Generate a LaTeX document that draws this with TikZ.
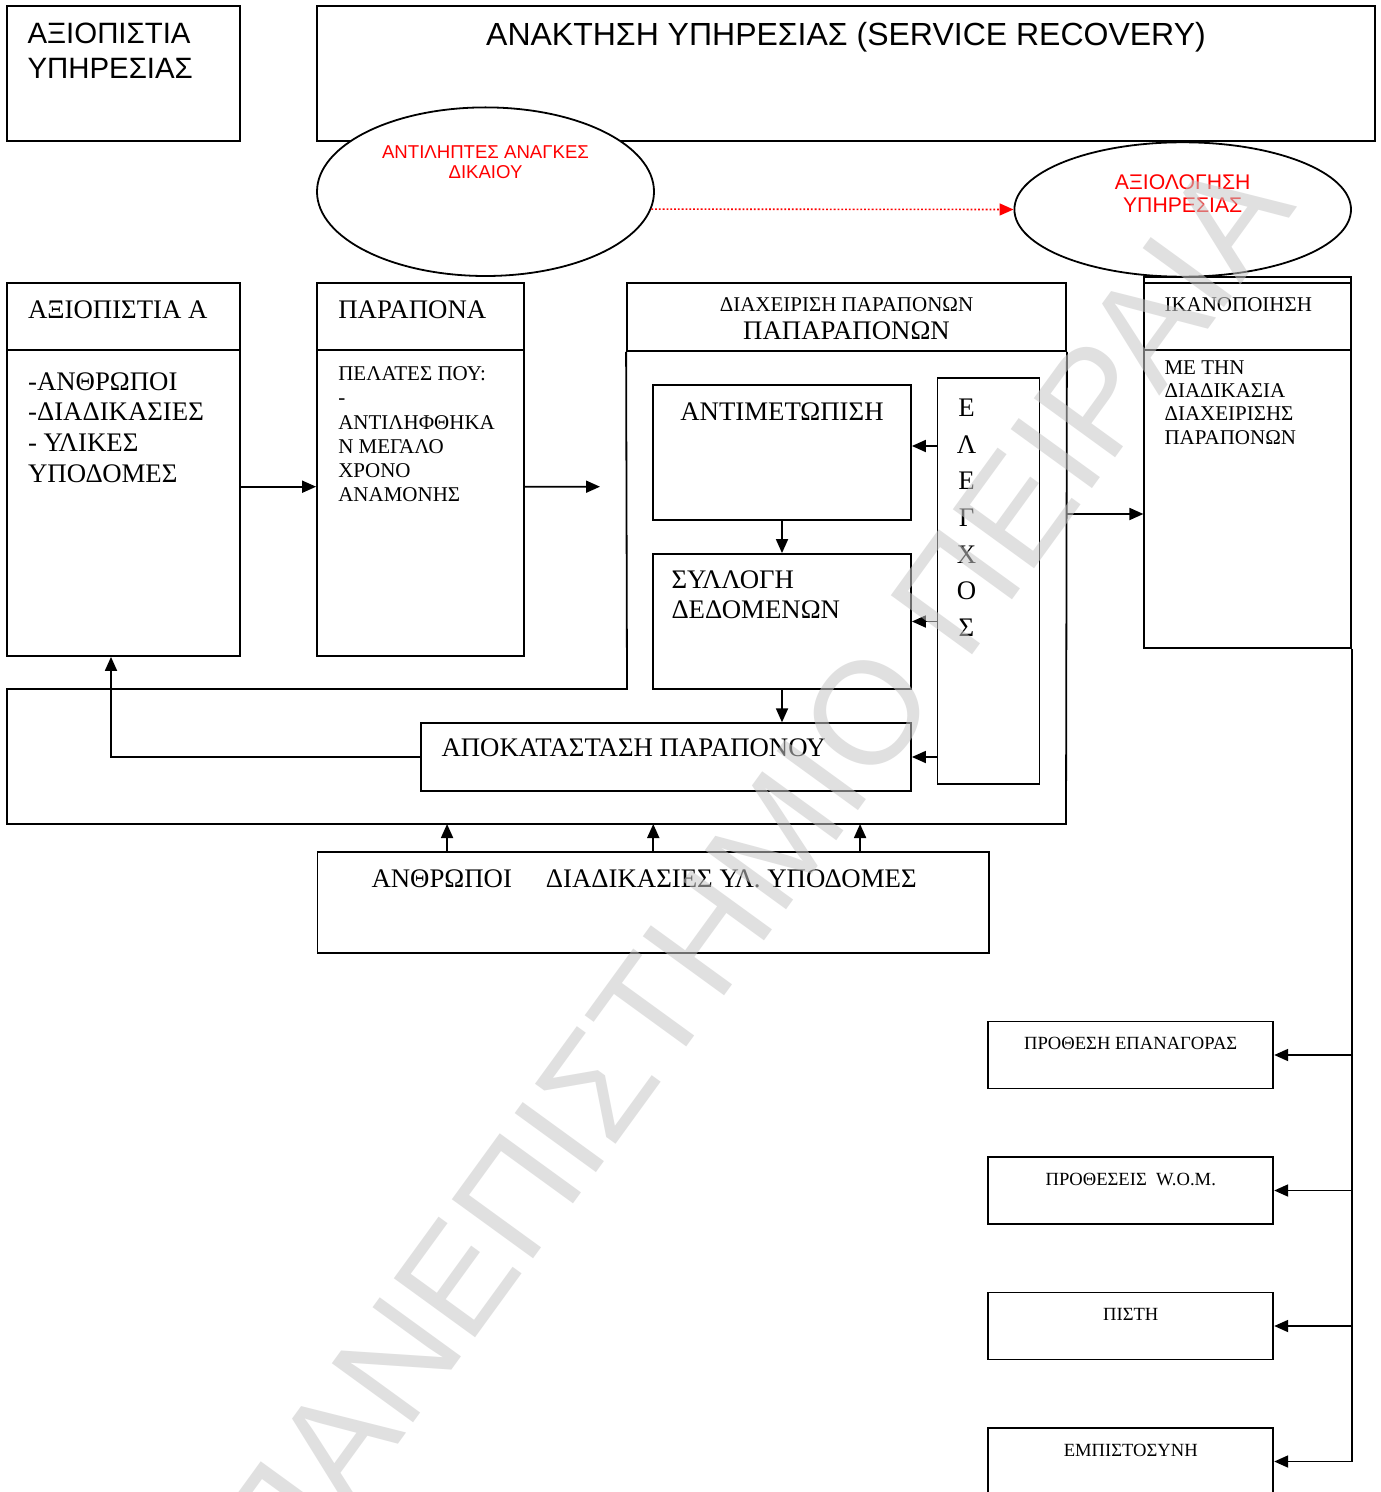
\documentclass[tikz,border=0pt]{standalone}
\usepackage{fontspec}
\setmainfont{Liberation Serif}
\setsansfont{Liberation Sans}
\usetikzlibrary{arrows.meta, positioning, shapes.geometric}

\begin{document}
\begin{tikzpicture}[x=0.5pt, y=-0.5pt,
    box/.style={draw, line width=0.9pt, fill=white, inner sep=0pt},
    oval/.style={draw, ellipse, line width=0.9pt, fill=white, inner sep=0pt},
    arr/.style={line width=0.9pt, -{Triangle[length=7pt, width=6pt]}},
    head/.style={font=\sffamily\fontsize{14.7}{17.3}\selectfont, inner sep=0pt, align=left},
    redtxt/.style={font=\sffamily\fontsize{9.3}{10.3}\selectfont, text=red, inner sep=0pt, align=center},
    big/.style={font=\fontsize{13.4}{15.4}\selectfont, inner sep=0pt, align=left},
    small/.style={font=\fontsize{10.5}{12.1}\selectfont, inner sep=0pt, align=left},
    note/.style={font=\fontsize{9.3}{11}\selectfont, inner sep=0pt}
]
    \useasboundingbox (0,0) rectangle (1380,1492);
    \fill[white] (0,0) rectangle (1380,1492);

    % Service reliability
    \node[box, minimum width=116.5pt, minimum height=67.5pt] (asr) at (123.5,73.5) {};
    \node[head, anchor=base west] (asrT) at ([xshift=10.5pt, yshift=-36.5pt]asr.north west) {ΑΞΙΟΠΙΣΤΙΑ\\ΥΠΗΡΕΣΙΑΣ};

    % Service recovery
    \node[box, minimum width=529pt, minimum height=67.5pt] (rec) at (846,73.5) {};
    \node[head, font=\sffamily\fontsize{16}{19}\selectfont, anchor=base] (recT) at ([yshift=-20.3pt]rec.north) {ΑΝΑΚΤΗΣΗ ΥΠΗΡΕΣΙΑΣ (SERVICE RECOVERY)};

    % Perceived needs and evaluation
    \node[oval, minimum width=168.5pt, minimum height=84.3pt] (need) at (485.5,191.7) {};
    \node[redtxt, anchor=base] (needT) at ([yshift=6.4pt]need.center) {ΑΝΤΙΛΗΠΤΕΣ ΑΝΑΓΚΕΣ\\ΔΙΚΑΙΟΥ};
    \node[oval, minimum width=168.3pt, minimum height=67.2pt] (eval) at (1182.7,209.5) {};
    \node[redtxt, font=\sffamily\fontsize{10.6}{11.7}\selectfont, anchor=base] (evalT) at ([yshift=-1.6pt]eval.center) {ΑΞΙΟΛΟΓΗΣΗ\\ΥΠΗΡΕΣΙΑΣ};
    \draw[arr, red, densely dotted, line width=0.8pt] (need.-6) -- (eval.west);

    % Reliability A
    \node[box, minimum width=116.5pt, minimum height=186.5pt] (axA) at (123.5,469.5) {};
    \draw[line width=0.9pt] ([yshift=-34pt]axA.north west) -- ([yshift=-34pt]axA.north east);
    \node[big, anchor=base west] (axAT) at ([xshift=10.8pt, yshift=-18pt]axA.north west) {ΑΞΙΟΠΙΣΤΙΑ Α};
    \node[big, anchor=base west] (axAB) at ([xshift=10.8pt, yshift=-100.2pt]axA.north west) {-ΑΝΘΡΩΠΟΙ\\-ΔΙΑΔΙΚΑΣΙΕΣ\\- ΥΛΙΚΕΣ\\ΥΠΟΔΟΜΕΣ};

    % Complaints
    \node[box, minimum width=103.5pt, minimum height=186.5pt] (par) at (420.5,469.5) {};
    \draw[line width=0.9pt] ([yshift=-34pt]par.north west) -- ([yshift=-34pt]par.north east);
    \node[big, anchor=base west] (parT) at ([xshift=10.9pt, yshift=-18pt]par.north west) {ΠΑΡΑΠΟΝΑ};
    \node[small, anchor=base west] (parB) at ([xshift=10.9pt, yshift=-109.8pt]par.north west) {ΠΕΛΑΤΕΣ ΠΟΥ:\\-\\ΑΝΤΙΛΗΦΘΗΚΑ\\Ν ΜΕΓΑΛΟ\\ΧΡΟΝΟ\\ΑΝΑΜΟΝΗΣ};
    \coordinate (parOut) at (600,486.7);
    \draw[arr] ([yshift=-8.6pt]axA.east) -- ([yshift=-8.6pt]par.west);
    \draw[arr] ([yshift=-8.6pt]par.east) -- (parOut);

    % Complaint management frame
    \node[box, minimum width=219.5pt, minimum height=34pt] (diaT) at (846.5,317) {};
    \node[small, anchor=base] (diaL1) at ([yshift=-14.95pt]diaT.north) {ΔΙΑΧΕΙΡΙΣΗ ΠΑΡΑΠΟΝΩΝ};
    \node[big, anchor=base] (diaL2) at ([yshift=-28.85pt]diaT.north) {ΠΑΠΑΡΑΠΟΝΩΝ};
    \draw[line width=0.9pt] (diaT.south west) -- (627,689) -- (7,689) -- (7,824) -- (1066,824) -- (diaT.south east);
    \coordinate (diaE) at (1066,514);
    \coordinate (diaS) at (653,824);

    % Steps
    \node[box, minimum width=129pt, minimum height=67.5pt] (ant) at (782,452.5) {};
    \node[big, anchor=base] (antT) at ([yshift=-18pt]ant.north) {ΑΝΤΙΜΕΤΩΠΙΣΗ};
    \node[box, minimum width=129pt, minimum height=67.5pt] (syl) at (782,621.5) {};
    \node[big, font=\fontsize{13.4}{15}\selectfont, anchor=base west] (sylT) at ([xshift=9.5pt, yshift=-32.5pt]syl.north west) {ΣΥΛΛΟΓΗ\\ΔΕΔΟΜΕΝΩΝ};
    \node[box, minimum width=245pt, minimum height=33.75pt] (apok) at (666,757) {};
    \node[big, anchor=base west] (apokT) at ([xshift=10.5pt, yshift=-17.3pt]apok.north west) {ΑΠΟΚΑΤΑΣΤΑΣΗ ΠΑΡΑΠΟΝΟΥ};
    \draw[arr] (ant.south) -- (syl.north);
    \draw[arr] (syl.south) -- (syl.south |- apok.north);
    \draw[arr] (apok.west) -| ([xshift=-6.25pt]axA.south);

    % Control
    \node[box, minimum width=51pt, minimum height=203pt] (ele) at (988.5,581) {};
    \node[big, font=\fontsize{13.4}{18.3}\selectfont, align=center, anchor=base] (eleT) at ([xshift=-11pt, yshift=-129.6pt]ele.north) {Ε\\Λ\\Ε\\Γ\\Χ\\Ο\\Σ};
    \draw[arr] ([yshift=3.25pt]ant.east -| ele.west) -- ([yshift=3.25pt]ant.east);
    \draw[arr] (syl.east -| ele.west) -- (syl.east);
    \draw[arr] (apok.east -| ele.west) -- (apok.east);

    % Resources
    \node[box, minimum width=335.75pt, minimum height=50.5pt] (base) at (653.25,902.5) {};
    \node[big, anchor=base west] (baseT) at ([xshift=27.25pt, yshift=-18pt]base.north west) {ΑΝΘΡΩΠΟΙ\hspace{17pt}ΔΙΑΔΙΚΑΣΙΕΣ ΥΛ. ΥΠΟΔΟΜΕΣ};
    \foreach \dx in {-103.1pt, 0pt, 103.4pt}
        \draw[arr] ([xshift=\dx]base.north) -- ([xshift=\dx]base.north |- diaS);

    % Satisfaction
    \node[box, minimum width=103.2pt, minimum height=185.65pt] (ikan) at (1247.5,462.35) {};
    \draw[line width=0.9pt] ([yshift=-3.65pt]ikan.north west) -- ([yshift=-3.65pt]ikan.north east);
    \draw[line width=0.9pt] ([yshift=-37pt]ikan.north west) -- ([yshift=-37pt]ikan.north east);
    \node[small, anchor=base west] (ikanT) at ([xshift=10.35pt, yshift=-18pt]ikan.north west) {ΙΚΑΝΟΠΟΙΗΣΗ};
    \node[small, font=\fontsize{10.5}{11.7}\selectfont, anchor=base west] (ikanB) at ([xshift=10.35pt, yshift=-84.25pt]ikan.north west) {ΜΕ ΤΗΝ\\ΔΙΑΔΙΚΑΣΙΑ\\ΔΙΑΧΕΙΡΙΣΗΣ\\ΠΑΡΑΠΟΝΩΝ};
    \draw[arr] (diaE) -- (diaE -| ikan.west);

    % Outcomes
    \foreach \nm/\yy/\txt in {proth/1055/ΠΡΟΘΕΣΗ ΕΠΑΝΑΓΟΡΑΣ, wom/1190.5/ΠΡΟΘΕΣΕΙΣ\ \ W.O.M., pist/1326/ΠΙΣΤΗ, emp/1461.5/ΕΜΠΙΣΤΟΣΥΝΗ} {
        \node[box, minimum width=142.5pt, minimum height=33.5pt] (\nm) at (1130.75,\yy) {};
        \node[note, anchor=base] (\nm-t) at ([yshift=-14.5pt]\nm.north) {\txt};
    }
    \draw[line width=0.9pt] (ikan.south east) -- (ikan.south east |- emp.east);
    \foreach \nm in {proth, wom, pist, emp}
        \draw[arr] (ikan.south east |- \nm.east) -- (\nm.east);

    % Watermark
    \begin{scope}
        \clip (0,0) rectangle (1380,1492);
        \node[font=\sffamily\fontsize{73}{73}\selectfont, text=black!22, text opacity=0.55, rotate=54, inner sep=0pt] (wm) at (752,872) {ΠΑΝΕΠΙΣΤΗΜΙΟ ΠΕΙΡΑΙΑ};
    \end{scope}
\end{tikzpicture}
\end{document}
